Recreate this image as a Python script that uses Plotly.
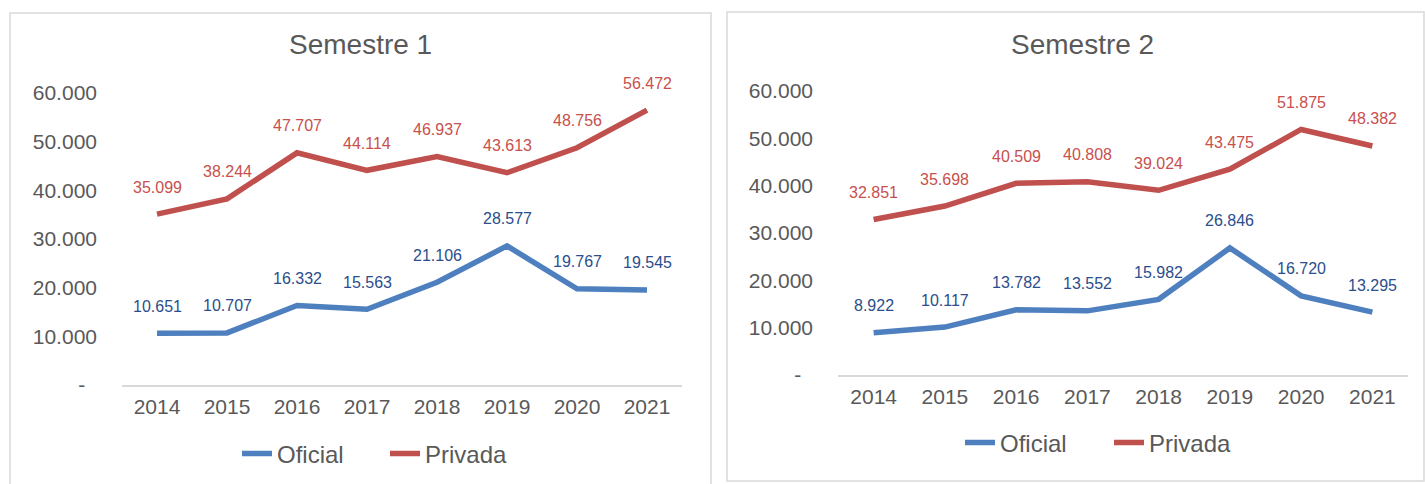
import plotly.graph_objects as go

years = ["2014", "2015", "2016", "2017", "2018", "2019", "2020", "2021"]
s1_oficial = [10651, 10707, 16332, 15563, 21106, 28577, 19767, 19545]
s1_privada = [35099, 38244, 47707, 44114, 46937, 43613, 48756, 56472]
s2_oficial = [8922, 10117, 13782, 13552, 15982, 26846, 16720, 13295]
s2_privada = [32851, 35698, 40509, 40808, 39024, 43475, 51875, 48382]
tick_vals = [0, 10000, 20000, 30000, 40000, 50000, 60000]
tick_text = ["-\u00a0\u00a0", "10.000", "20.000", "30.000", "40.000", "50.000", "60.000"]

BLUE = "#4E7FBE"
RED = "#C0504D"
BLUE_LBL = "#2B4E8C"
RED_LBL = "#C8504D"
GRAY = "#595959"
FONT = "Liberation Sans, Arial, sans-serif"
W, H = 1425, 484


def fmt(v):
    return f"{v:,}".replace(",", ".")


fig = go.Figure()

panels = [
    dict(xa="x", ya="y", of=s1_oficial, pr=s1_privada, legend="legend"),
    dict(xa="x2", ya="y2", of=s2_oficial, pr=s2_privada, legend="legend2"),
]

annotations = []
for p in panels:
    fig.add_trace(go.Scatter(x=years, y=p["of"], name="Oficial", mode="lines",
                             line=dict(color=BLUE, width=5.5), xaxis=p["xa"], yaxis=p["ya"],
                             legend=p["legend"], cliponaxis=False))
    fig.add_trace(go.Scatter(x=years, y=p["pr"], name="Privada", mode="lines",
                             line=dict(color=RED, width=5.5), xaxis=p["xa"], yaxis=p["ya"],
                             legend=p["legend"], cliponaxis=False))
    for series, col in ((p["of"], BLUE_LBL), (p["pr"], RED_LBL)):
        for i, v in enumerate(series):
            annotations.append(dict(x=i, y=v, xref=p["xa"], yref=p["ya"], text=fmt(v),
                                    showarrow=False, yshift=27,
                                    font=dict(size=16, color=col, family=FONT)))

# titles
annotations.append(dict(x=360 / W, y=(H - 45) / H, xref="paper", yref="paper", text="Semestre 1",
                        showarrow=False, xanchor="center", yanchor="middle",
                        font=dict(size=28, color=GRAY, family=FONT)))
annotations.append(dict(x=1082 / W, y=(H - 45) / H, xref="paper", yref="paper", text="Semestre 2",
                        showarrow=False, xanchor="center", yanchor="middle",
                        font=dict(size=28, color=GRAY, family=FONT)))

axis_common_x = dict(type="category", range=[-0.5, 7.5], showgrid=False, zeroline=False,
                     showline=True, linecolor="#D9D9D9", linewidth=2, ticks="",
                     tickfont=dict(size=21, color=GRAY, family=FONT), ticklabelstandoff=2,
                     automargin=False)
axis_common_y = dict(range=[0, 60000], tickvals=tick_vals, ticktext=tick_text, showgrid=False,
                     zeroline=False, showline=False, ticks="",
                     tickfont=dict(size=21, color=GRAY, family=FONT), ticklabelstandoff=24,
                     automargin=False)

fig.update_layout(
    width=W, height=H, autosize=False,
    margin=dict(l=0, r=0, t=0, b=0, pad=0, autoexpand=False),
    paper_bgcolor="white", plot_bgcolor="white",
    font=dict(family=FONT, color=GRAY),
    xaxis=dict(domain=[122 / W, 682 / W], anchor="y", **axis_common_x),
    yaxis=dict(domain=[(H - 385) / H, (H - 93) / H], anchor="x", **axis_common_y),
    xaxis2=dict(domain=[838 / W, 1408 / W], anchor="y2", **axis_common_x),
    yaxis2=dict(domain=[(H - 375) / H, (H - 91) / H], anchor="x2", **axis_common_y),
    legend=dict(orientation="h", x=237 / W, y=(H - 454) / H, xanchor="left", yanchor="middle",
                entrywidth=103, entrywidthmode="pixels",
                font=dict(size=24, color=GRAY, family=FONT), bgcolor="rgba(0,0,0,0)"),
    legend2=dict(orientation="h", x=960 / W, y=(H - 443) / H, xanchor="left", yanchor="middle",
                 entrywidth=104, entrywidthmode="pixels",
                 font=dict(size=24, color=GRAY, family=FONT), bgcolor="rgba(0,0,0,0)"),
    annotations=annotations,
    shapes=[
        dict(type="rect", xref="paper", yref="paper", x0=10 / W, x1=711 / W, y0=-0.05, y1=(H - 13) / H,
             line=dict(color="#D9D9D9", width=1.5), layer="below"),
        dict(type="rect", xref="paper", yref="paper", x0=727 / W, x1=1424 / W, y0=(H - 481) / H,
             y1=(H - 12) / H, line=dict(color="#D9D9D9", width=1.5), layer="below"),
    ],
    showlegend=True,
)

fig.write_html(
    "out.html",
    config={"displayModeBar": False},
    post_script="document.body.style.margin='0';document.body.style.overflow='hidden';"
                "document.documentElement.style.overflow='hidden';",
)
